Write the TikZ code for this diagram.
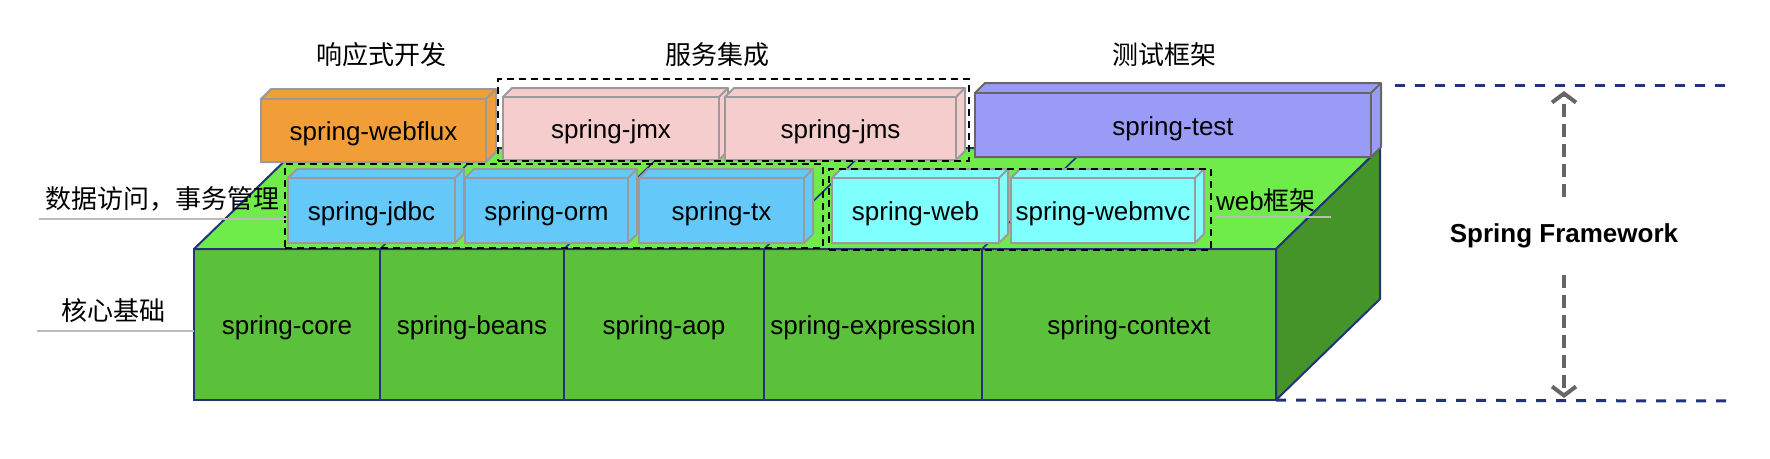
\documentclass[tikz,border=0pt]{standalone}
\usepackage{fontspec}
\setmainfont{Liberation Sans}
\newfontfamily\cjk{Noto Sans CJK SC}
\usetikzlibrary{arrows.meta}
\definecolor{navy}{HTML}{22337A}
\definecolor{baseFront}{HTML}{5BC13B}
\definecolor{baseTop}{HTML}{6FEB4A}
\definecolor{baseSide}{HTML}{45942A}
\definecolor{orangeC}{HTML}{F19E38}
\definecolor{pinkC}{HTML}{F6CDCD}
\definecolor{purpleC}{HTML}{999BF6}
\definecolor{blueC}{HTML}{64C9F9}
\definecolor{cyanC}{HTML}{80FFFF}
\definecolor{boxGray}{HTML}{9A9A9A}
\definecolor{darkGray}{HTML}{666666}
\definecolor{lineGray}{HTML}{BBBBBB}
\newcommand\cubebox[8]{%
  \filldraw[#7, line join=round] (#2,#3) -- ++(#6,-#6) -- (#4+#6,#3-#6) -- (#4+#6,#5-#6) -- (#4,#5) -- (#2,#5) -- cycle;
  \node[#7, modtext, draw, minimum width={#4-#2}, minimum height={#5-#3}, inner sep=0pt, outer sep=0pt] (#1) at ({(#2+#4)/2},{(#3+#5)/2}) {#8};
  \draw[#7] (#1.north east) -- ++(#6,-#6);
}
\begin{document}
\begin{tikzpicture}[x=1pt,y=-1pt,
  every node/.style={font=\fontsize{26}{30}\selectfont},
  modtext/.style={text height=22pt, text depth=2pt},
  basecell/.style={modtext, draw=navy, fill=baseFront, line width=2pt, inner sep=0pt, outer sep=0pt, minimum height=151},
  baseface/.style={draw=navy, line width=2pt, line join=round},
  divline/.style={draw=navy, line width=1.6pt},
  bxorange/.style={fill=orangeC, draw=boxGray, line width=2pt},
  bxpink/.style={fill=pinkC, draw=boxGray, line width=2pt},
  bxpurple/.style={fill=purpleC, draw=darkGray, line width=2pt},
  bxblue/.style={fill=blueC, draw=boxGray, line width=2pt},
  bxcyan/.style={fill=cyanC, draw=boxGray, line width=2pt},
  group/.style={draw=black, line width=2pt, dash pattern=on 7pt off 5pt, inner sep=0pt, outer sep=0pt},
  uline/.style={draw=lineGray, line width=2pt},
  hdash/.style={draw=navy, line width=3pt, dash pattern=on 10pt off 10pt},
  vdash/.style={draw=darkGray, line width=4pt, dash pattern=on 13pt off 7pt, -{Straight Barb[length=9pt,width=24pt]}},
  cjktext/.style={font=\fontsize{26}{30}\selectfont\cjk}
]
\useasboundingbox (0,0) rectangle (1770,458);

% base front cells
\node[basecell, minimum width=186] (core) at (287,324.5) {spring-core};
\node[basecell, minimum width=184] (beans) at (472,324.5) {spring-beans};
\node[basecell, minimum width=200] (aop) at (664,324.5) {spring-aop};
\node[basecell, minimum width=218] (expr) at (873,324.5) {spring-expression};
\node[basecell, minimum width=294] (ctx) at (1129,324.5) {spring-context};

% top and right faces
\filldraw[baseface, fill=baseTop] (core.north west) -- ++(104,-101) -- ++(1082,0) -- (ctx.north east) -- cycle;
\filldraw[baseface, fill=baseSide] (ctx.north east) -- ++(104,-101) -- ++(0,151) -- (ctx.south east) -- cycle;
\draw[divline] (beans.north west) -- ++(104,-101);
\draw[divline] (aop.north west) -- ++(104,-101);
\draw[divline] (expr.north west) -- ++(104,-101);
\draw[divline] (ctx.north west) -- ++(104,-101);

% middle row
\cubebox{jdbc}{288}{178}{455}{243}{9}{bxblue}{spring-jdbc}
\cubebox{orm}{465}{178}{628}{243}{9}{bxblue}{spring-orm}
\cubebox{tx}{639}{178}{804}{243}{9}{bxblue}{spring-tx}
\cubebox{web}{832}{178}{999}{243}{9}{bxcyan}{spring-web}
\cubebox{webmvc}{1011}{178}{1195}{243}{9}{bxcyan}{spring-webmvc}

% upper row
\cubebox{webflux}{261}{99}{486}{162}{10}{bxorange}{spring-webflux}
\cubebox{jmx}{503}{97}{719}{160}{9}{bxpink}{spring-jmx}
\cubebox{jms}{725}{97}{956}{160}{9}{bxpink}{spring-jms}
\cubebox{test}{975}{93}{1371}{157}{10}{bxpurple}{spring-test}

% dashed groups
\node[group, minimum width=471, minimum height=82] (svc) at (733.5,120) {};
\node[group, minimum width=538, minimum height=84] (data) at (554,206) {};
\node[group, minimum width=382, minimum height=81] (webgrp) at (1020,209.5) {};

% titles
\node[cjktext] (tReact) at (381,55) {响应式开发};
\node[cjktext] (tSvc) at (717,55) {服务集成};
\node[cjktext] (tTest) at (1164,55) {测试框架};

% side labels
\node[cjktext] (lData) at (162.5,199) {数据访问，事务管理};
\coordinate (lDataA) at (39,219);
\coordinate (lDataB) at (287,219);
\draw[uline] (lDataA) -- (lDataB);
\node[cjktext] (lCore) at (113.5,311) {核心基础};
\coordinate (lCoreA) at (37,331);
\draw[uline] (lCoreA) -- (core.west |- lCoreA);
\node[anchor=west, inner sep=0pt] (lWeb) at (1216,201) {web{\cjk 框架}};
\coordinate (lWebA) at (1216,217);
\coordinate (lWebB) at (1331,217);
\draw[uline] (lWebA) -- (lWebB);

% framework extent
\coordinate (hTopA) at (1395,85);
\coordinate (hTopB) at (1725,85);
\coordinate (hBotB) at (1734,401);
\draw[hdash] (hTopA) -- (hTopB);
\draw[hdash] (ctx.south east) -- (hBotB);
\node[font=\fontsize{26}{30}\selectfont\bfseries, minimum height=78, inner sep=0pt] (sf) at (1564,236) {Spring Framework};
\coordinate (arrTop) at (1564,91);
\coordinate (arrBot) at (1564,398);
\draw[vdash] (sf.north) -- (arrTop);
\draw[vdash] (sf.south) -- (arrBot);
\end{tikzpicture}
\end{document}
